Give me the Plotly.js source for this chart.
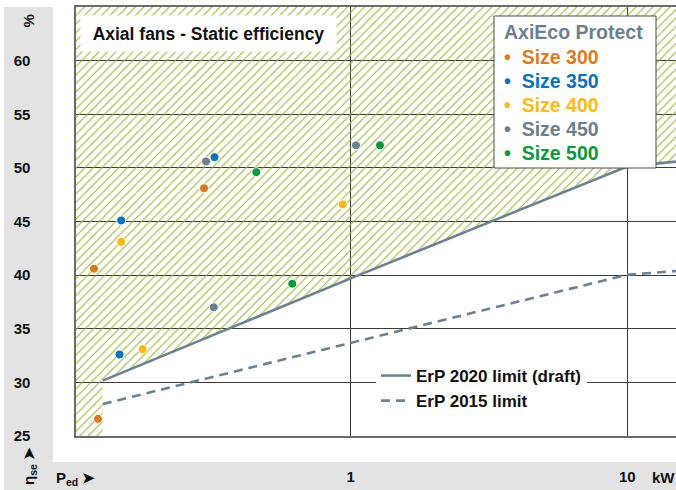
<!DOCTYPE html>
<html>
<head>
<meta charset="utf-8">
<script src="https://cdn.plot.ly/plotly-3.0.1.min.js"></script>
<style>
html,body{margin:0;padding:0;background:#fff;}
#chart{width:676px;height:490px;}
</style>
</head>
<body>
<div id="chart"></div>
<script>
// ---- data ----
const sizeLabels = ['Size 300', 'Size 350', 'Size 400', 'Size 450', 'Size 500'];
const sizeColors = ['#e07a1c', '#0a72c4', '#fdb913', '#6b7f90', '#089a3e'];
const legendTitle = 'AxiEco Protect';
const p300 = [0.118, 0.122, 0.295];
const e300 = [40.6, 26.6, 48.1];
const p350 = [0.146, 0.148, 0.322];
const e350 = [32.6, 45.1, 51.0];
const p400 = [0.148, 0.177, 0.936];
const e400 = [43.1, 33.1, 46.6];
const p450 = [0.300, 0.320, 1.045];
const e450 = [50.6, 37.0, 52.1];
const p500 = [0.456, 0.615, 1.276];
const e500 = [49.6, 39.2, 52.1];

const erp2020P = [0.127, 1, 10, 15];
const erp2020E = [30.16, 39.7, 50.13, 50.58];
const erp2015P = [0.127, 1, 10, 15];
const erp2015E = [27.98, 33.68, 40.04, 40.38];

const xTickVals = [1, 10];
const xTickText = ['1', '10'];
const yTickVals = [25, 30, 35, 40, 45, 50, 55, 60];
const yTickText = ['25', '30', '35', '40', '45', '50', '55', '60'];

const xMin = 0.1, xMax = 15, yMin = 25, yMax = 65;

// ---- layout helpers ----
const W = 676, H = 490, ML = 76, MR = 0, MT = 7, MB = 54;
const PW = W - ML - MR, PH = H - MT - MB;
const px = x => (x - ML) / PW;
const py = y => (H - MB - y) / PH;

const lineColor = '#6b8296';
const FONT = 'Liberation Sans, Arial, sans-serif';

// hatched region: above ErP 2020 line
const hatchX = [xMin, xMin, xMax].concat(erp2020P.slice().reverse()).concat([erp2020P[0], xMin]);
const hatchY = [yMin, yMax, yMax].concat(erp2020E.slice().reverse()).concat([yMin, yMin]);

const traces = [
  {
    x: hatchX, y: hatchY, type: 'scatter', mode: 'none', fill: 'toself',
    fillcolor: 'rgba(0,0,0,0)',
    fillpattern: {shape: '/', fgcolor: '#98b328', bgcolor: 'rgba(0,0,0,0)', size: 6, solidity: 0.17},
    showlegend: false, hoverinfo: 'skip'
  },
  {
    x: erp2020P, y: erp2020E, type: 'scatter', mode: 'lines',
    name: 'ErP 2020 limit (draft)', legendgroup: 'a',
    line: {color: lineColor, width: 2.6}
  },
  {
    x: erp2015P, y: erp2015E, type: 'scatter', mode: 'lines',
    name: 'ErP 2015 limit', legendgroup: 'b',
    line: {color: lineColor, width: 2.6, dash: '9px,6px'}
  }
];

const sizeP = [p300, p350, p400, p450, p500];
const sizeE = [e300, e350, e400, e450, e500];
sizeLabels.forEach((lab, i) => {
  traces.push({
    x: sizeP[i], y: sizeE[i], type: 'scatter', mode: 'markers', name: lab,
    marker: {color: sizeColors[i], size: 9, line: {color: '#fff', width: 1}},
    showlegend: false
  });
});

const annotations = [
  {xref: 'paper', yref: 'paper', x: px(80), y: py(15), xanchor: 'left', yanchor: 'top',
   text: 'Axial fans - Static efficiency', showarrow: false,
   bgcolor: '#fff', borderpad: 3, width: 249, height: 29, align: 'center',
   font: {family: FONT, size: 17.5, color: '#111', weight: 'bold'}},
  {xref: 'paper', yref: 'paper', x: px(502), y: py(32), xanchor: 'left', yanchor: 'middle',
   text: legendTitle, showarrow: false,
   font: {family: FONT, size: 19.5, color: '#6b7f90', weight: 'bold'}},
  {xref: 'paper', yref: 'paper', x: px(27.5), y: py(21), xanchor: 'center', yanchor: 'middle',
   text: '%', textangle: -90, showarrow: false,
   font: {family: FONT, size: 15, color: '#111', weight: 'bold'}},
  {xref: 'paper', yref: 'paper', x: px(29), y: py(466), xanchor: 'center', yanchor: 'middle',
   text: '\u03b7<sub>se</sub> \u27a4', textangle: -90, showarrow: false,
   font: {family: FONT, size: 15, color: '#111', weight: 'bold'}},
  {xref: 'paper', yref: 'paper', x: px(54), y: py(478), xanchor: 'left', yanchor: 'middle',
   text: 'P<sub>ed</sub> \u27a4', showarrow: false,
   font: {family: FONT, size: 15, color: '#111', weight: 'bold'}},
  {xref: 'paper', yref: 'paper', x: px(663), y: py(477), xanchor: 'center', yanchor: 'middle',
   text: 'kW', showarrow: false,
   font: {family: FONT, size: 15, color: '#111', weight: 'bold'}}
];
sizeLabels.forEach((lab, i) => {
  annotations.push({
    xref: 'paper', yref: 'paper', x: px(502), y: py(57.5 + 23.8 * i), xanchor: 'left', yanchor: 'middle',
    text: '\u2022\u00a0\u00a0' + lab, showarrow: false,
    font: {family: FONT, size: 19.5, color: sizeColors[i], weight: 'bold'}
  });
});

const layout = {
  width: W, height: H,
  margin: {l: ML, r: MR, t: MT, b: MB, pad: 0},
  paper_bgcolor: '#fff', plot_bgcolor: '#fff',
  font: {family: FONT, color: '#111'},
  showlegend: true,
  legend: {
    x: px(376), y: py(358), xanchor: 'left', yanchor: 'top',
    bgcolor: '#fff', borderwidth: 0,
    font: {family: FONT, size: 17, color: '#111', weight: 'bold'},
    tracegroupgap: 7, itemwidth: 30, traceorder: 'normal'
  },
  xaxis: {
    type: 'log', range: [Math.log10(xMin) + 0.007, Math.log10(xMax)],
    tickvals: xTickVals, ticktext: xTickText,
    showgrid: true, gridcolor: '#3a3a3a', gridwidth: 1.2,
    zeroline: false, showline: true, linecolor: '#6a6a6a', linewidth: 1.6, mirror: true,
    ticks: '', ticklabelstandoff: 26,
    tickfont: {family: FONT, size: 15, color: '#111', weight: 'bold'},
    fixedrange: true
  },
  yaxis: {
    range: [yMin, yMax],
    tickvals: yTickVals, ticktext: yTickText,
    showgrid: true, gridcolor: '#3a3a3a', gridwidth: 1.2,
    zeroline: false, showline: true, linecolor: '#6a6a6a', linewidth: 1.6,
    ticks: '', ticklabelstandoff: 41,
    tickfont: {family: FONT, size: 15, color: '#111', weight: 'bold'},
    fixedrange: true
  },
  shapes: [
    {type: 'rect', xref: 'paper', yref: 'paper', layer: 'below',
     x0: px(4), x1: px(53), y0: py(490), y1: py(7),
     fillcolor: '#e3e3e3', line: {width: 0}},
    {type: 'rect', xref: 'paper', yref: 'paper', layer: 'below',
     x0: px(4), x1: px(680), y0: py(490), y1: py(462),
     fillcolor: '#e3e3e3', line: {width: 0}},
    {type: 'rect', xref: 'paper', yref: 'paper', layer: 'above',
     x0: px(494), x1: px(656), y0: py(168), y1: py(16),
     fillcolor: '#fff', line: {color: '#4a4a4a', width: 1}}
  ],
  annotations: annotations
};

Plotly.newPlot('chart', traces, layout, {displayModeBar: false, staticPlot: true});
</script>
</body>
</html>
